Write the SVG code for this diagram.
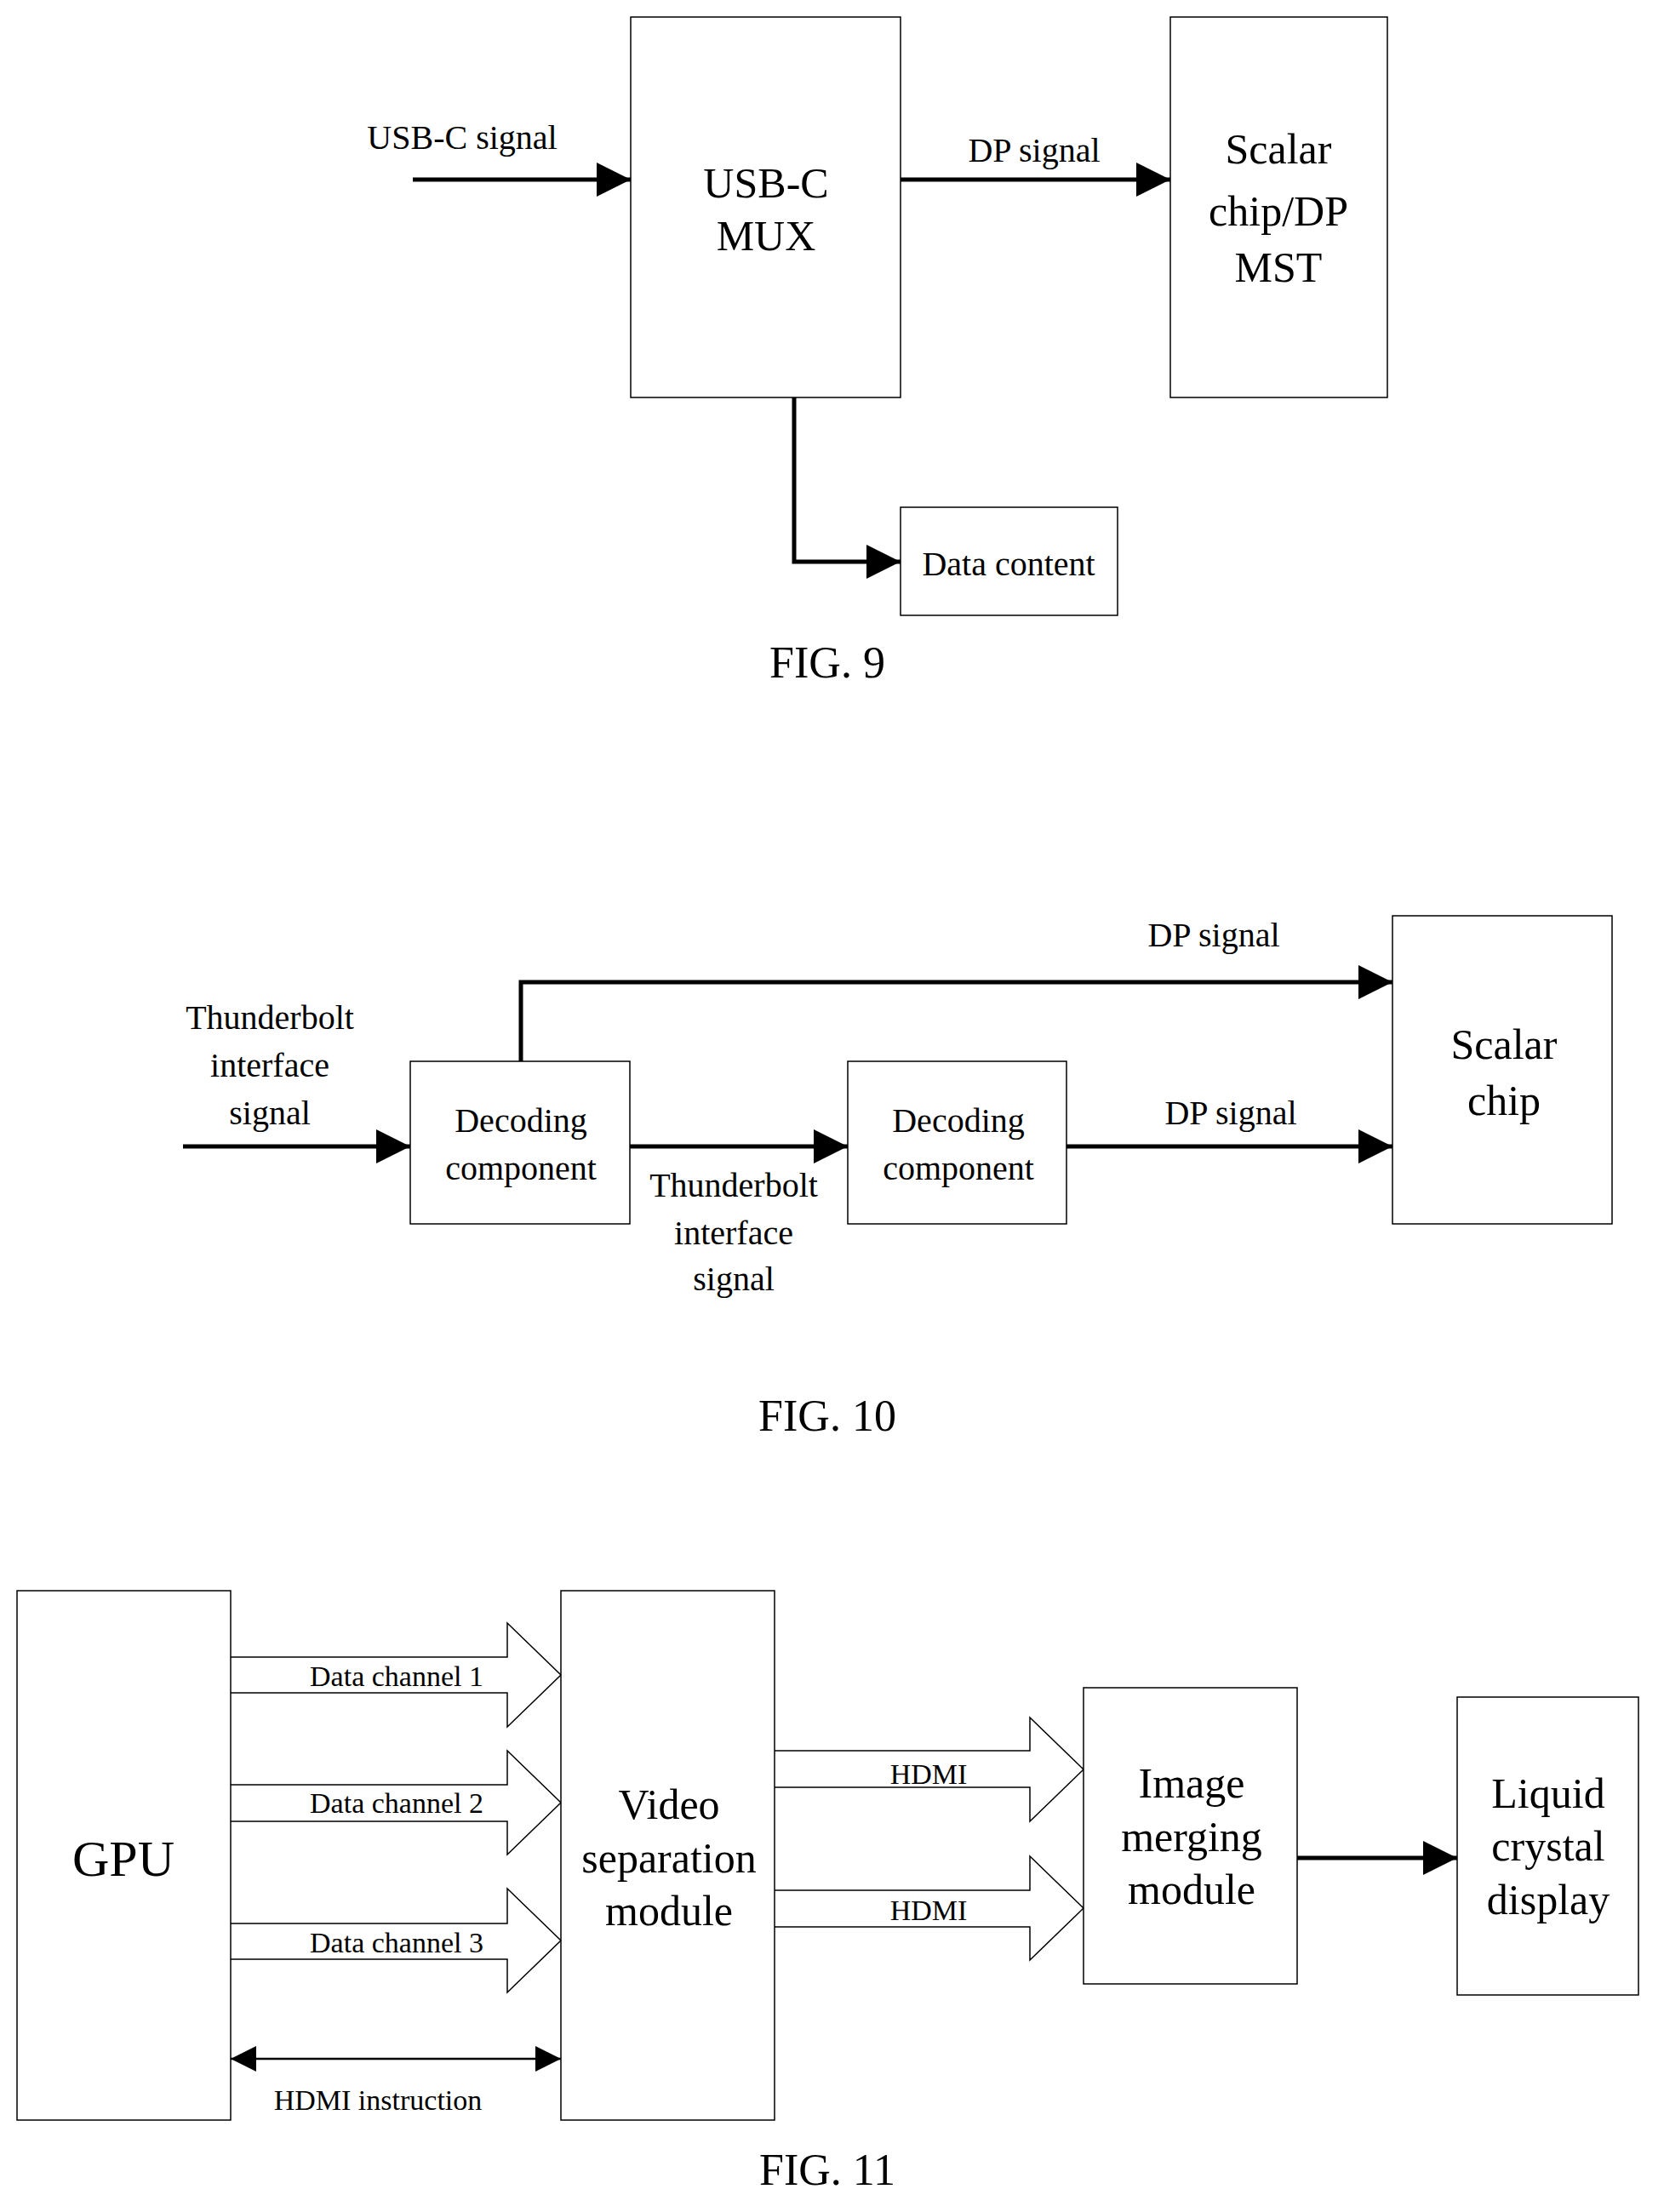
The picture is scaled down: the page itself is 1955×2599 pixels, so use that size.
<svg xmlns="http://www.w3.org/2000/svg" width="1955" height="2599" viewBox="0 0 1955 2599">
<style>
text{font-family:"Liberation Serif","Times New Roman",serif;fill:#000;text-anchor:middle}
.box{fill:#fff;stroke:#000;stroke-width:1.5}
.ln{fill:none;stroke:#000;stroke-width:5}
.thin{fill:none;stroke:#000;stroke-width:2.5}
.blk{fill:#fff;stroke:#000;stroke-width:1.5}
.big{font-size:50px}.mid{font-size:40px}.sm{font-size:34px}.fig{font-size:52px}
</style>
<defs>
<marker id="ah" markerWidth="10" markerHeight="10" refX="9" refY="5" orient="auto" markerUnits="userSpaceOnUse" viewBox="0 0 10 10" style="overflow:visible"><path d="M-40,-15 L10,5 L-40,25 Z" transform="translate(0,-0)" fill="#000"/></marker>
<marker id="a2" viewBox="0 0 20 20" refX="20" refY="10" markerWidth="46" markerHeight="40" orient="auto-start-reverse" markerUnits="userSpaceOnUse"><path d="M0,0 L20,10 L0,20 Z" fill="#000"/></marker>
<marker id="a3" viewBox="0 0 20 20" refX="20" refY="10" markerWidth="30" markerHeight="30" orient="auto-start-reverse" markerUnits="userSpaceOnUse"><path d="M0,0 L20,10 L0,20 Z" fill="#000"/></marker>
</defs>
<g id="connectors">
<path class="ln" d="M485,211 H741" marker-end="url(#a2)"/>
<path class="ln" d="M1058,211 H1375" marker-end="url(#a2)"/>
<path class="ln" d="M933,467 V660 H1058" marker-end="url(#a2)"/>
<path class="ln" d="M215,1347 H482" marker-end="url(#a2)"/>
<path class="ln" d="M740,1347 H996" marker-end="url(#a2)"/>
<path class="ln" d="M1253,1347 H1636" marker-end="url(#a2)"/>
<path class="ln" d="M612,1247 V1154 H1636" marker-end="url(#a2)"/>
<path class="blk" d="M271,1947 H596 V1907 L659,1968 L596,2029 V1989 H271"/>
<path class="blk" d="M271,2097 H596 V2057 L659,2118 L596,2179 V2140 H271"/>
<path class="blk" d="M271,2260 H596 V2219 L659,2280 L596,2341 V2302 H271"/>
<path class="blk" d="M910,2057 H1210 V2018 L1273,2079 L1210,2140 V2100 H910"/>
<path class="blk" d="M910,2221 H1210 V2181 L1273,2242 L1210,2303 V2264 H910"/>
<path class="ln" d="M1524,2183 H1712" marker-end="url(#a2)"/>
<path class="thin" d="M271,2419 H659" marker-start="url(#a3)" marker-end="url(#a3)"/>
<text class="mid" x="543" y="175">USB-C signal</text>
<text class="mid" x="1215" y="190">DP signal</text>
<text class="mid" x="317" y="1209">Thunderbolt</text>
<text class="mid" x="317" y="1265">interface</text>
<text class="mid" x="317" y="1321">signal</text>
<text class="mid" x="862" y="1406">Thunderbolt</text>
<text class="mid" x="862" y="1462">interface</text>
<text class="mid" x="862" y="1516">signal</text>
<text class="mid" x="1426" y="1112">DP signal</text>
<text class="mid" x="1446" y="1321">DP signal</text>
<text class="sm" x="466" y="1981">Data channel 1</text>
<text class="sm" x="466" y="2130">Data channel 2</text>
<text class="sm" x="466" y="2294">Data channel 3</text>
<text class="sm" x="1091" y="2096">HDMI</text>
<text class="sm" x="1091" y="2256">HDMI</text>
<text class="sm" x="444" y="2479">HDMI instruction</text>
</g>
<g id="mux"><rect class="box" x="741" y="20" width="317" height="447"/><text class="big" x="900" y="232">USB-C</text><text class="big" x="900" y="294">MUX</text></g>
<g id="scalar9"><rect class="box" x="1375" y="20" width="255" height="447"/><text class="big" x="1502" y="192">Scalar</text><text class="big" x="1502" y="265">chip/DP</text><text class="big" x="1502" y="331">MST</text></g>
<g id="data"><rect class="box" x="1058" y="596" width="255" height="127"/><text class="mid" x="1185" y="676">Data content</text></g>
<g id="fig9"><text class="fig" x="972" y="796">FIG. 9</text></g>
<g id="dec1"><rect class="box" x="482" y="1247" width="258" height="191"/><text class="mid" x="612" y="1330">Decoding</text><text class="mid" x="612" y="1386">component</text></g>
<g id="dec2"><rect class="box" x="996" y="1247" width="257" height="191"/><text class="mid" x="1126" y="1330">Decoding</text><text class="mid" x="1126" y="1386">component</text></g>
<g id="scalar10"><rect class="box" x="1636" y="1076" width="258" height="362"/><text class="big" x="1767" y="1244">Scalar</text><text class="big" x="1767" y="1310">chip</text></g>
<g id="fig10"><text class="fig" x="972" y="1681">FIG. 10</text></g>
<g id="gpu"><rect class="box" x="20" y="1869" width="251" height="622"/><text x="145" y="2204" style="font-size:60px">GPU</text></g>
<g id="vsep"><rect class="box" x="659" y="1869" width="251" height="622"/><text class="big" x="786" y="2137">Video</text><text class="big" x="786" y="2200">separation</text><text class="big" x="786" y="2262">module</text></g>
<g id="merge"><rect class="box" x="1273" y="1983" width="251" height="348"/><text class="big" x="1400" y="2112">Image</text><text class="big" x="1400" y="2175">merging</text><text class="big" x="1400" y="2237">module</text></g>
<g id="lcd"><rect class="box" x="1712" y="1994" width="213" height="350"/><text class="big" x="1819" y="2124">Liquid</text><text class="big" x="1819" y="2186">crystal</text><text class="big" x="1819" y="2249">display</text></g>
<g id="fig11"><text class="fig" x="972" y="2567">FIG. 11</text></g>
</svg>
